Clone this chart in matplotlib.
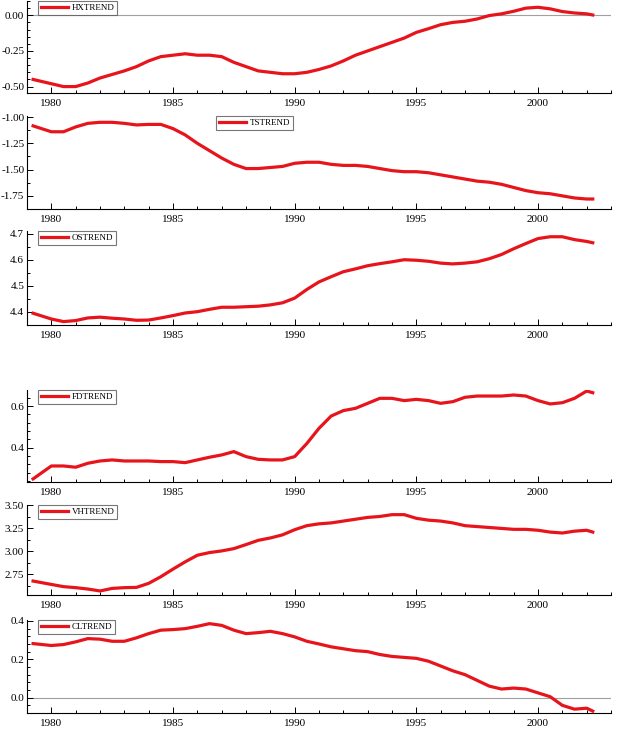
import numpy as np
import matplotlib
matplotlib.use("Agg")
import matplotlib.pyplot as plt
from matplotlib.ticker import MultipleLocator, AutoMinorLocator, FormatStrFormatter

plt.rcParams["font.family"] = ["Liberation Serif", "DejaVu Serif"]
plt.rcParams["axes.unicode_minus"] = False

# half-yearly readings, 1979Q2 .. 2002Q2
years = [1979.25] + list(np.arange(1980.0, 2002.01, 0.5)) + [2002.25]

hxtrend = [-0.45, -0.48, -0.50, -0.50, -0.475, -0.44, -0.415, -0.39, -0.36, -0.32,
           -0.29, -0.28, -0.27, -0.28, -0.28, -0.29, -0.33, -0.36, -0.39, -0.40,
           -0.41, -0.41, -0.40, -0.38, -0.355, -0.32, -0.28, -0.25, -0.22, -0.19,
           -0.16, -0.12, -0.094, -0.066, -0.05, -0.042, -0.026, -0.002, 0.01, 0.028,
           0.05, 0.056, 0.045, 0.026, 0.016, 0.01, 0.002]
tstrend = [-1.084, -1.14, -1.14, -1.094, -1.06, -1.05, -1.05, -1.06, -1.075, -1.07,
           -1.07, -1.11, -1.17, -1.25, -1.32, -1.39, -1.45, -1.49, -1.49, -1.48,
           -1.47, -1.44, -1.43, -1.43, -1.45, -1.46, -1.46, -1.47, -1.49, -1.51,
           -1.52, -1.52, -1.53, -1.55, -1.57, -1.59, -1.61, -1.62, -1.64, -1.67,
           -1.70, -1.72, -1.73, -1.75, -1.77, -1.78, -1.78]
ostrend = [4.395, 4.373, 4.363, 4.367, 4.377, 4.38, 4.376, 4.373, 4.368, 4.369,
           4.377, 4.386, 4.396, 4.401, 4.41, 4.418, 4.418, 4.42, 4.422, 4.427,
           4.435, 4.453, 4.486, 4.515, 4.535, 4.554, 4.565, 4.577, 4.585, 4.592,
           4.60, 4.598, 4.594, 4.587, 4.584, 4.587, 4.592, 4.604, 4.62, 4.642,
           4.662, 4.681, 4.688, 4.688, 4.677, 4.67, 4.665]
fdtrend = [0.25, 0.312, 0.312, 0.306, 0.325, 0.336, 0.341, 0.336, 0.336, 0.336,
           0.333, 0.333, 0.328, 0.341, 0.354, 0.365, 0.381, 0.357, 0.344, 0.341,
           0.341, 0.357, 0.42, 0.493, 0.552, 0.578, 0.589, 0.613, 0.637, 0.637,
           0.626, 0.632, 0.626, 0.613, 0.621, 0.642, 0.648, 0.648, 0.648, 0.653,
           0.648, 0.626, 0.61, 0.616, 0.637, 0.672, 0.664]
vhtrend = [2.677, 2.64, 2.616, 2.605, 2.59, 2.569, 2.597, 2.605, 2.608, 2.652,
           2.724, 2.807, 2.886, 2.958, 2.987, 3.005, 3.03, 3.074, 3.12, 3.146,
           3.18, 3.236, 3.28, 3.30, 3.31, 3.33, 3.35, 3.37, 3.38, 3.40,
           3.40, 3.36, 3.34, 3.33, 3.31, 3.28, 3.27, 3.26, 3.25, 3.24,
           3.24, 3.23, 3.21, 3.20, 3.22, 3.23, 3.21]
cltrend = [0.282, 0.272, 0.277, 0.291, 0.308, 0.305, 0.294, 0.294, 0.312, 0.334,
           0.352, 0.355, 0.36, 0.372, 0.386, 0.377, 0.352, 0.334, 0.339, 0.346,
           0.334, 0.317, 0.294, 0.28, 0.265, 0.255, 0.245, 0.24, 0.225, 0.215,
           0.21, 0.205, 0.19, 0.165, 0.14, 0.12, 0.09, 0.06, 0.045, 0.05,
           0.045, 0.025, 0.005, -0.04, -0.06, -0.055, -0.07]

names = ["HXTREND", "TSTREND", "OSTREND", "FDTREND", "VHTREND", "CLTREND"]
series = [hxtrend, tstrend, ostrend, fdtrend, vhtrend, cltrend]

# panel layout in pixels (top, bottom), y limits, tick steps
W, H = 619, 747
boxes = [(1, 93), (116, 209), (231, 325), (390, 482), (505, 595), (620, 713)]
ylims = [(-0.545, 0.10), (-1.875, -0.99), (4.35, 4.71), (0.235, 0.677), (2.525, 3.505), (-0.08, 0.405)]
ysteps = [0.25, 0.25, 0.1, 0.2, 0.25, 0.2]
yminor = [5, 2, 2, 5, 2, 5]
yfmt = ["%.2f", "%.2f", "%.1f", "%.1f", "%.2f", "%.1f"]
legx = [0.019, 0.324, 0.019, 0.019, 0.019, 0.019]
zero_line = [True, False, False, False, False, True]

fig = plt.figure(figsize=(W / 100, H / 100), dpi=100)
left, right = 27 / W, 611 / W

for i in range(6):
    top, bot = boxes[i]
    ax = fig.add_axes([left, 1 - bot / H, right - left, (bot - top) / H])
    if zero_line[i]:
        ax.axhline(0, color="#a0a0a0", lw=0.8, zorder=1)
    ax.plot(years, series[i], color="#e8141c", lw=2.3, label=names[i], zorder=3)
    ax.set_xlim(1979.0, 2003.0)
    ax.set_ylim(*ylims[i])
    ax.xaxis.set_major_locator(MultipleLocator(5))
    ax.xaxis.set_minor_locator(MultipleLocator(1))
    ax.yaxis.set_major_locator(MultipleLocator(ysteps[i]))
    ax.yaxis.set_minor_locator(AutoMinorLocator(yminor[i]))
    ax.yaxis.set_major_formatter(FormatStrFormatter(yfmt[i]))
    for s in ["top", "right"]:
        ax.spines[s].set_visible(False)
    for s in ["left", "bottom"]:
        ax.spines[s].set_linewidth(0.8)
    ax.tick_params(which="both", direction="in", labelsize=8, width=0.7, pad=2)
    ax.tick_params(which="major", length=4)
    ax.tick_params(which="minor", length=2.5)
    ax.tick_params(axis="x", pad=4)
    leg = ax.legend(loc="upper left", bbox_to_anchor=(legx[i], 1.0), fontsize=6.5,
                    frameon=True, fancybox=False, borderaxespad=0, handlelength=3.0,
                    handletextpad=0.4, borderpad=0.3)
    leg.get_frame().set_edgecolor("#555555")
    leg.get_frame().set_linewidth(0.8)

fig.savefig("out.png", dpi=100)
